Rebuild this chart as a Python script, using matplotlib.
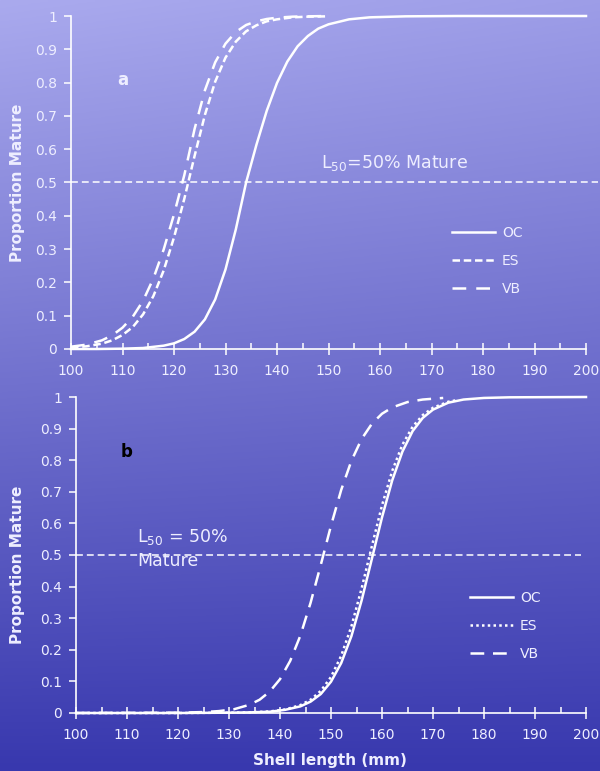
import numpy as np
import matplotlib
matplotlib.use('Agg')
import matplotlib.pyplot as plt
from matplotlib.ticker import MultipleLocator

# ---- panel a data (shell length mm, proportion mature) ----
a_oc_x = [100, 105, 110, 114, 118, 120, 122, 124, 126, 128, 130, 132, 134, 136, 138, 140,
          142, 144, 146, 148, 150, 154, 158, 165, 175, 200]
a_oc_y = [0.000, 0.000, 0.001, 0.003, 0.010, 0.017, 0.030, 0.052, 0.089, 0.149, 0.239, 0.359,
          0.500, 0.613, 0.715, 0.799, 0.863, 0.909, 0.940, 0.962, 0.975, 0.990, 0.996, 0.999,
          1.000, 1.000]

a_es_x = [100, 103, 106, 108, 110, 112, 114, 116, 118, 120, 122, 124, 126, 128, 130, 132,
          134, 136, 138, 140, 143, 146, 150]
a_es_y = [0.004, 0.008, 0.016, 0.026, 0.042, 0.066, 0.104, 0.159, 0.236, 0.335, 0.451, 0.580,
          0.703, 0.803, 0.875, 0.923, 0.954, 0.972, 0.984, 0.990, 0.996, 0.998, 0.999]

a_vb_x = [100, 103, 106, 108, 110, 112, 114, 116, 118, 120, 122, 124, 126, 128, 130, 132,
          134, 136, 138, 140, 143, 146, 150]
a_vb_y = [0.007, 0.013, 0.026, 0.041, 0.064, 0.097, 0.145, 0.212, 0.299, 0.404, 0.522, 0.661,
          0.777, 0.861, 0.917, 0.952, 0.973, 0.984, 0.991, 0.995, 0.998, 0.999, 1.000]

# ---- panel b data ----
b_oc_x = [100, 120, 130, 134, 138, 141, 144, 146, 148, 150, 152, 154, 156, 158, 160, 162,
          164, 166, 168, 170, 173, 176, 180, 185, 200]
b_oc_y = [0.000, 0.000, 0.001, 0.002, 0.004, 0.010, 0.021, 0.036, 0.060, 0.099, 0.158, 0.243,
          0.356, 0.487, 0.619, 0.736, 0.827, 0.892, 0.934, 0.960, 0.982, 0.992, 0.997, 0.999,
          1.000]

b_es_x = [100, 120, 130, 134, 138, 141, 144, 146, 148, 150, 152, 154, 156, 158, 160, 162,
          164, 166, 168, 170, 173, 175]
b_es_y = [0.000, 0.000, 0.001, 0.002, 0.005, 0.011, 0.025, 0.042, 0.070, 0.114, 0.181, 0.274,
          0.394, 0.527, 0.657, 0.766, 0.849, 0.906, 0.943, 0.966, 0.985, 0.991]

b_vb_x = [100, 120, 125, 128, 131, 134, 136, 138, 140, 142, 144, 146, 148, 150, 152, 154,
          156, 158, 160, 162, 165, 168, 172]
b_vb_y = [0.000, 0.001, 0.003, 0.006, 0.012, 0.026, 0.042, 0.068, 0.107, 0.165, 0.245, 0.349,
          0.469, 0.593, 0.706, 0.798, 0.867, 0.915, 0.947, 0.967, 0.984, 0.992, 0.997]

# L50 reference lines
l50_top_x = [100, 202.3]
l50_bot_x = [100, 199]
l50_y = [0.5, 0.5]

xticks = [100, 110, 120, 130, 140, 150, 160, 170, 180, 190, 200]
yticks = [0, 0.1, 0.2, 0.3, 0.4, 0.5, 0.6, 0.7, 0.8, 0.9, 1]
ytick_labels = ['0', '0.1', '0.2', '0.3', '0.4', '0.5', '0.6', '0.7', '0.8', '0.9', '1']
series_names = ['OC', 'ES', 'VB']

txt_col = '#eeeeff'
line_col = 'white'

fig = plt.figure(figsize=(6, 7.71), dpi=100)

# gradient background (light lavender top -> deep blue bottom)
bg = fig.add_axes([0, 0, 1, 1], zorder=0)
h, w = 300, 200
t = np.linspace(0, 1, h)[:, None]
s = np.linspace(0, 1, w)[None, :]
top = np.array([170, 170, 238]) / 255.0
bot = np.array([56, 56, 174]) / 255.0
img = top[None, None, :] + (bot - top)[None, None, :] * t[:, :, None]
img = img - 0.05 * s[:, :, None] * (1 - t[:, :, None]) * np.array([1, 1, 0.5])
bg.imshow(np.clip(img, 0, 1), aspect='auto', extent=[0, 1, 0, 1])
bg.axis('off')


def style_axes(ax):
    ax.set_facecolor('none')
    ax.set_xlim(100, 200)
    ax.set_ylim(0, 1)
    for sp in ['top', 'right']:
        ax.spines[sp].set_visible(False)
    for sp in ['left', 'bottom']:
        ax.spines[sp].set_color(line_col)
        ax.spines[sp].set_linewidth(1.2)
    ax.set_xticks(xticks)
    ax.xaxis.set_minor_locator(MultipleLocator(5))
    ax.set_yticks(yticks)
    ax.set_yticklabels(ytick_labels)
    ax.tick_params(axis='x', which='major', direction='inout', length=8, width=1.1,
                   color=line_col, labelcolor=txt_col, labelsize=10, pad=7)
    ax.tick_params(axis='x', which='minor', direction='in', length=4, width=1.1,
                   color=line_col)
    ax.tick_params(axis='y', which='major', direction='out', length=5, width=1.1,
                   color=line_col, labelcolor=txt_col, labelsize=10, pad=5)
    ax.set_ylabel('Proportion Mature', color=txt_col, fontsize=11, fontweight='bold')


# ---- panel a ----
ax1 = fig.add_axes([71/600, 1 - 349/771, 515/600, 333/771], zorder=2)
style_axes(ax1)
ax1.plot(l50_top_x, l50_y, color=line_col, lw=1.1, dashes=(4.5, 2.6), clip_on=False)
ax1.plot(a_oc_x, a_oc_y, color=line_col, lw=1.8, label=series_names[0], clip_on=False)
ax1.plot(a_es_x, a_es_y, color=line_col, lw=1.8, dashes=(3.0, 1.5), label=series_names[1],
         clip_on=False)
ax1.plot(a_vb_x, a_vb_y, color=line_col, lw=1.8, dashes=(5.5, 4.0), label=series_names[2],
         clip_on=False)
ax1.yaxis.set_label_coords(-0.09, 0.5)
h1, l1 = ax1.get_legend_handles_labels()
leg1 = ax1.legend(h1, l1, loc='upper left', bbox_to_anchor=(452/600, 1 - 226/771),
                  bbox_transform=fig.transFigure, frameon=False, borderpad=0,
                  borderaxespad=0, handlelength=3.1, handletextpad=0.5,
                  labelspacing=1.02, fontsize=10)
for tx in leg1.get_texts():
    tx.set_color(txt_col)

fig.text(123/600, 1 - 80/771, 'a', color=txt_col, fontsize=12, fontweight='bold',
         ha='center', va='center')
fig.text(321/600, 1 - 163/771, 'L$_{50}$=50% Mature', color=txt_col, fontsize=12.5,
         ha='left', va='center')

# ---- panel b ----
ax2 = fig.add_axes([76/600, 1 - 713/771, 510/600, 316/771], zorder=2)
style_axes(ax2)
ax2.plot(l50_bot_x, l50_y, color=line_col, lw=1.1, dashes=(4.5, 2.6), clip_on=False)
ax2.plot(b_oc_x, b_oc_y, color=line_col, lw=1.8, label=series_names[0], clip_on=False)
ax2.plot(b_es_x, b_es_y, color=line_col, lw=1.8, dashes=(1.0, 1.3), label=series_names[1],
         clip_on=False)
ax2.plot(b_vb_x, b_vb_y, color=line_col, lw=1.8, dashes=(5.5, 3.5), label=series_names[2],
         clip_on=False)
ax2.yaxis.set_label_coords(-0.1, 0.47)
ax2.set_xlabel('Shell length (mm)', color=txt_col, fontsize=11, fontweight='bold')
ax2.xaxis.set_label_coords(0.498, -0.125)
h2, l2 = ax2.get_legend_handles_labels()
leg2 = ax2.legend(h2, l2, loc='upper left', bbox_to_anchor=(470/600, 1 - 591/771),
                  bbox_transform=fig.transFigure, frameon=False, borderpad=0,
                  borderaxespad=0, handlelength=3.1, handletextpad=0.5,
                  labelspacing=1.02, fontsize=10)
for tx in leg2.get_texts():
    tx.set_color(txt_col)

fig.text(127/600, 1 - 452/771, 'b', color='black', fontsize=12, fontweight='bold',
         ha='center', va='center')
fig.text(137/600, 1 - 537/771, 'L$_{50}$ = 50%', color=txt_col, fontsize=12.5,
         ha='left', va='center')
fig.text(137/600, 1 - 561/771, 'Mature', color=txt_col, fontsize=12.5,
         ha='left', va='center')

fig.savefig('out.png', dpi=100)
